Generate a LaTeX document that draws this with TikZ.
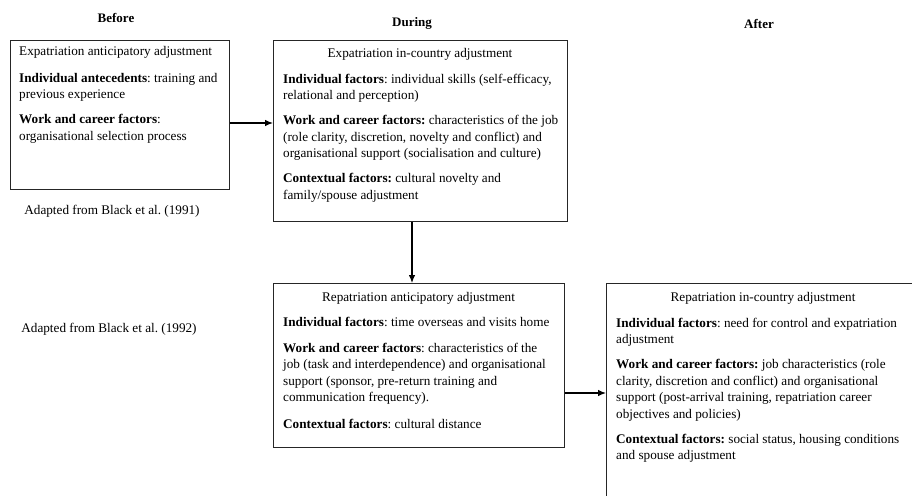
\documentclass[tikz,border=0pt]{standalone}
\usepackage{fontspec}
\setmainfont{Liberation Serif}
\usetikzlibrary{arrows.meta}
\frenchspacing
\begin{document}
\begin{tikzpicture}[x=1pt,y=-1pt,
 box/.style={draw=black!85, line width=0.9pt, anchor=north west, inner sep=0pt},
 txt/.style={inner sep=0pt, align=left, anchor=north west, font=\fontsize{13.2}{16.5}\selectfont\frenchspacing},
 ttl/.style={inner sep=0pt, anchor=base, font=\fontsize{13.2}{16.5}\selectfont\frenchspacing},
 hdr/.style={inner sep=0pt, anchor=base, font=\fontsize{13.0}{16.5}\selectfont\bfseries},
 arr/.style={-{Latex[length=8pt,width=6.5pt]}, line width=1.1pt}]
\useasboundingbox (0,0) rectangle (912,495);

% headers
\node[hdr] (h1) at (116,22.5) {Before};
\node[hdr] (h2) at (412,26.5) {During};
\node[hdr] (h3) at (759,28.5) {After};

% boxes
\node[box, minimum width=219pt, minimum height=149pt] (b1) at (10,40) {};
\node[box, minimum width=294pt, minimum height=181pt] (b2) at (273,40) {};
\node[box, minimum width=291pt, minimum height=164pt] (b3) at (273,283) {};
\node[box, minimum width=314pt, minimum height=220pt] (b4) at (606,283) {};

% titles
\node[ttl, anchor=base west] (t1) at (19,56) {Expatriation anticipatory adjustment};
\node[ttl] (t2) at (420,57) {Expatriation in-country adjustment};
\node[ttl] (t3) at (418.5,301) {Repatriation anticipatory adjustment};
\node[ttl] (t4) at (763,301) {Repatriation in-country adjustment};

% bodies
\node[txt] (c1) at (19,72) {\rule{0pt}{10pt}\textbf{Individual antecedents}: training and\\
previous experience\\[8.5pt]
\textbf{Work and career factors}:\\
organisational selection process};

\node[txt] (c2) at (283,73) {\rule{0pt}{10pt}\textbf{Individual factors}: individual skills (self-efficacy,\\
relational and perception)\\[8.5pt]
\textbf{Work and career factors:} characteristics of the job\\
(role clarity, discretion, novelty and conflict) and\\
organisational support (socialisation and culture)\\[8.5pt]
\textbf{Contextual factors:} cultural novelty and\\
family/spouse adjustment};

\node[txt] (c3) at (283,316) {\rule{0pt}{10pt}\textbf{Individual factors}: time overseas and visits home\\[9.5pt]
\textbf{Work and career factors}: characteristics of the\\
job (task and interdependence) and organisational\\
support (sponsor, pre-return training and\\
communication frequency).\\[10pt]
\textbf{Contextual factors}: cultural distance};

\node[txt] (c4) at (616,317) {\rule{0pt}{10pt}\textbf{Individual factors}: need for control and expatriation\\
adjustment\\[8.5pt]
\textbf{Work and career factors:} job characteristics (role\\
clarity, discretion and conflict) and organisational\\
support (post-arrival training, repatriation career\\
objectives and policies)\\[8.5pt]
\textbf{Contextual factors:} social status, housing conditions\\
and spouse adjustment};

% sources
\node[ttl] (a1) at (112,214) {Adapted from Black et al. (1991)};
\node[ttl] (a2) at (109,332) {Adapted from Black et al. (1992)};

% connectors
\coordinate (y1) at (0,123);
\draw[arr] (b1.east |- y1) -- (b2.west |- y1);
\coordinate (x2) at (412,0);
\draw[arr] (x2 |- b2.south) -- (x2 |- b3.north);
\coordinate (y3) at (0,393);
\draw[arr] (b3.east |- y3) -- (b4.west |- y3);
\end{tikzpicture}
\end{document}
